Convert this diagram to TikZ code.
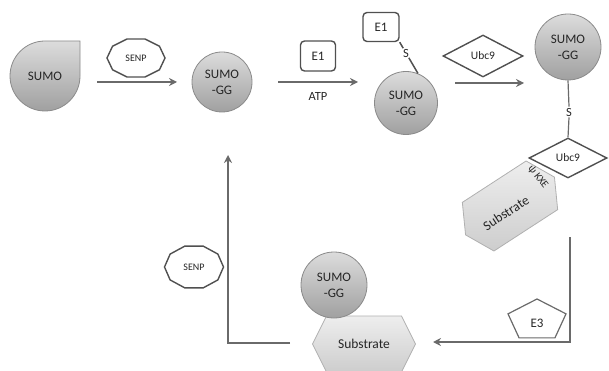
\documentclass[tikz,border=0pt]{standalone}
\usepackage{fontspec}
\setmainfont{Carlito}
\usetikzlibrary{shapes.geometric,arrows.meta,calc}
\definecolor{arrowgray}{HTML}{6A6A6A}
\definecolor{darkline}{HTML}{505050}
\definecolor{ballline}{HTML}{8A8A8A}
\definecolor{ballTop}{HTML}{DCDCDC}
\definecolor{ballBot}{HTML}{A0A0A0}
\definecolor{hexTop}{HTML}{EEEEEE}
\definecolor{hexBot}{HTML}{CDCDCD}
\definecolor{hexline}{HTML}{B0B0B0}
\definecolor{txt}{HTML}{262626}
\begin{document}
\begin{tikzpicture}[x=1pt,y=-1pt,
  every node/.style={text=txt},
  flow/.style={draw=arrowgray, line width=1.8pt, -{Stealth[length=8pt,width=8pt]}},
  link/.style={draw=darkline, line width=1.5pt},
  ball/.style={circle, draw=ballline, line width=0.8pt, top color=ballTop, bottom color=ballBot, minimum size=60pt, inner sep=0pt, align=center, font=\fontsize{13}{16}\selectfont},
  shapefill/.style={draw=ballline, line width=0.8pt, top color=ballTop, bottom color=ballBot},
  hexfill/.style={draw=hexline, line width=0.8pt, top color=hexTop, bottom color=hexBot},
  boxe/.style={draw=darkline, line width=1.4pt, rounded corners=4pt, minimum width=35pt, minimum height=30pt, inner sep=0pt, font=\fontsize{13}{15}\selectfont},
  diam/.style={diamond, draw=darkline, line width=1.4pt, inner sep=0pt, font=\fontsize{11.5}{13}\selectfont},
  octo/.style={draw=darkline, line width=1.4pt},
  penta/.style={draw=arrowgray, line width=1.2pt},
  lbl/.style={inner sep=1pt, font=\fontsize{12.5}{14}\selectfont},
  small/.style={font=\fontsize{10}{11}\selectfont},
  subst/.style={font=\fontsize{13.5}{15}\selectfont}
]
\useasboundingbox (0,0) rectangle (609,371);

% ---- SUMO teardrop
\coordinate (sumoC) at (45,76);
\draw[shapefill] ($(sumoC)+(35,-35)$) -- ($(sumoC)+(35,0)$) arc[start angle=0, end angle=-270, radius=35pt] -- cycle;
\node[font=\fontsize{13}{15}\selectfont] (sumo) at (sumoC) {SUMO};

% ---- SENP top
\node[small] (senp1) at (136,58) {SENP};
\draw[octo] ($(senp1)+(0:29pt and 20pt)$) foreach \a in {36,72,...,324} { -- ($(senp1)+(\a:29pt and 20pt)$) } -- cycle;

% ---- arrow 1
\coordinate (a1s) at (97,82);
\coordinate (a1e) at (177,82);
\draw[flow] (a1s) -- (a1e);

% ---- SUMO-GG 1
\node[ball] (c1) at (222,82) {SUMO\\-GG};

% ---- E1 + ATP arrow
\node[boxe] (e1a) at (318,56) {E1};
\coordinate (a2s) at (278,82);
\coordinate (a2e) at (358,82);
\draw[flow] (a2s) -- (a2e);
\node[lbl] (atp) at (318,96) {ATP};

% ---- E1-S-SUMO-GG
\node[boxe, minimum width=36pt, minimum height=29pt] (e1b) at (381,27) {E1};
\node[ball, minimum size=63pt] (c2) at (406,103) {SUMO\\-GG};
\node[lbl, inner sep=0.5pt] (s1) at (406,53) {S};
\draw[link] (e1b.south east) -- (s1);
\draw[link] (s1) -- (c2.68);

% ---- Ubc9 + arrow 3
\node[diam, minimum width=80pt, minimum height=42pt] (ubc1) at (483,56) {Ubc9};
\coordinate (a3s) at (455,83);
\coordinate (a3e) at (524,83);
\draw[flow] (a3s) -- (a3e);

% ---- rotated substrate hexagon
\begin{scope}[shift={(510,206)}, rotate=33]
  \draw[hexfill] (-53,0) -- (-38,-29) -- (38,-29) -- (53,0) -- (38,29) -- (-38,29) -- cycle;
\end{scope}
\node[subst, rotate=33, inner sep=0pt] (sub1) at (506,213) {Substrate};
\node[font=\fontsize{10.5}{12}\selectfont, rotate=-52, inner sep=0pt] (kxe) at (538,177) {ψ KXE};

% ---- SUMO-GG 3 with S and Ubc9
\node[ball, minimum size=66pt] (c3) at (568,47) {SUMO\\-GG};
\node[lbl] (s2) at (569,112) {S};
\node[diam, minimum width=78pt, minimum height=40pt] (ubc2) at (568,158) {Ubc9};
\draw[link, draw=arrowgray, line width=1.2pt] (c3.south) -- (s2.north);
\draw[link, draw=arrowgray, line width=1.2pt] (s2.south) -- (ubc2.north);

% ---- right down / bottom left arrow
\coordinate (r1s) at (570,237);
\coordinate (r1c) at (570,342);
\coordinate (r1e) at (433,342);
\draw[flow] (r1s) -- (r1c) -- (r1e);

% ---- E3 pentagon
\coordinate (e3c) at (537,320.5);
\draw[penta] ($(e3c)+(90:30.5pt and 21.5pt)$) -- ($(e3c)+(162:30.5pt and 21.5pt)$) -- ($(e3c)+(234:30.5pt and 21.5pt)$) -- ($(e3c)+(306:30.5pt and 21.5pt)$) -- ($(e3c)+(18:30.5pt and 21.5pt)$) -- cycle;
\node[font=\fontsize{13}{15}\selectfont] (e3) at ($(e3c)+(0,3)$) {E3};

% ---- bottom substrate + SUMO-GG
\coordinate (sub2c) at (364,344);
\draw[hexfill] ($(sub2c)+(-51.5,0)$) -- ($(sub2c)+(-37.5,-28)$) -- ($(sub2c)+(37.5,-28)$) -- ($(sub2c)+(51.5,0)$) -- ($(sub2c)+(37.5,28)$) -- ($(sub2c)+(-37.5,28)$) -- cycle;
\node[subst] (sub2) at (sub2c) {Substrate};
\node[ball, minimum size=66pt] (c4) at (334,285) {SUMO\\-GG};

% ---- return arrow
\coordinate (r2s) at (290,343);
\coordinate (r2c) at (228,343);
\coordinate (r2e) at (228,155);
\draw[flow] (r2s) -- (r2c) -- (r2e);

% ---- SENP lower
\node[small] (senp2) at (194,267) {SENP};
\draw[octo] ($(senp2)+(0:29.5pt and 22pt)$) foreach \a in {36,72,...,324} { -- ($(senp2)+(\a:29.5pt and 22pt)$) } -- cycle;
\end{tikzpicture}
\end{document}
